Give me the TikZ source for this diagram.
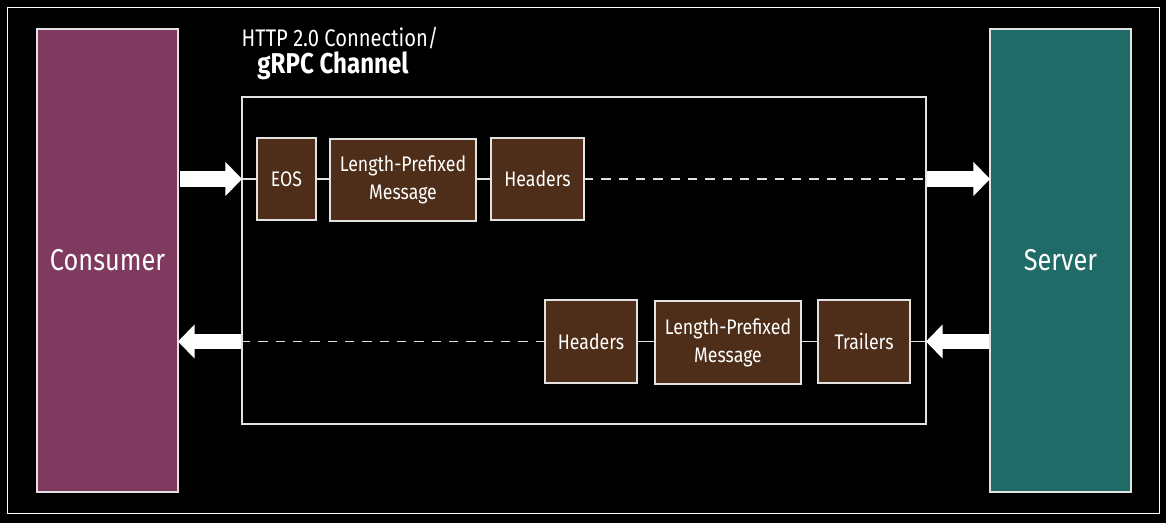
\documentclass[tikz,border=0pt]{standalone}
\usepackage{fontspec}
\setmainfont{Fira Sans}[FakeStretch=0.84]
\usetikzlibrary{arrows.meta}
\definecolor{consumerfill}{HTML}{7E3A5F}
\definecolor{serverfill}{HTML}{206B67}
\definecolor{framefill}{HTML}{4E2D19}
\definecolor{edge}{HTML}{E2E2E2}
\begin{document}
\begin{tikzpicture}[x=0.75pt,y=-0.75pt,
  party/.style={draw=edge,line width=1.4pt,inner sep=0pt,outer sep=0pt,
    minimum width=105.75pt,minimum height=347.25pt,text=white,font=\fontsize{22.6}{26}\selectfont},
  frame/.style={draw=edge,fill=framefill,line width=1.1pt,inner sep=0pt,outer sep=0pt,
    text=white,align=center,font=\fontsize{15.8}{21}\selectfont},
  link/.style={draw=edge,line width=0.8pt},
  stream/.style={link,dash pattern=on 7pt off 6pt},
  bigarrow/.style={white,line width=11.5pt,-{Triangle[length=12.5pt,width=25pt]}},
  label/.style={text=white,inner sep=0pt,font=\fontsize{18}{21}\selectfont}]
  % page and outer border
  \fill[black] (0,0) rectangle (1166,523);
  \draw[white,line width=1.3pt] (7.5,7.5) rectangle (1159.5,513.5);

  % endpoints
  \node[party,fill=consumerfill] (consumer) at (107.5,260.5) {Consumer};
  \node[party,fill=serverfill] (server) at (1060.5,260.5) {Server};

  % the channel
  \node[draw=edge,line width=1pt,inner sep=0pt,outer sep=0pt,
        minimum width=513pt,minimum height=245.25pt] (channel) at (584,260.5) {};
  \node[label] (title1) at (340,38) {HTTP 2.0 Connection/};
  \node[label,font=\fontsize{21.5}{24}\selectfont\bfseries] (title2) at (333,66) {gRPC Channel};

  % request stream
  \node[frame,minimum width=44.25pt,minimum height=61.5pt] (eos) at (286.5,179) {EOS};
  \node[frame,minimum width=109.5pt,minimum height=61.5pt] (reqmsg) at (403,180) {Length-Prefixed\\Message};
  \node[frame,minimum width=69.75pt,minimum height=61.5pt] (reqhdr) at (537.5,179) {Headers};

  % response stream
  \node[frame,minimum width=69pt,minimum height=62.25pt] (reshdr) at (591,341.5) {Headers};
  \node[frame,minimum width=109.5pt,minimum height=62.25pt] (resmsg) at (728,342.5) {Length-Prefixed\\Message};
  \node[frame,minimum width=69pt,minimum height=62.25pt] (trailers) at (864,341.5) {Trailers};

  % links inside the channel
  \draw[link] (eos.west -| channel.west) -- (eos.west);
  \draw[link] (eos.east) -- (eos.east -| reqmsg.west);
  \draw[link] (eos.east -| reqmsg.east) -- (reqhdr.west);
  \draw[stream] (reqhdr.east) -- (reqhdr.east -| channel.east);
  \draw[link] (trailers.east) -- (trailers.east -| channel.east);
  \draw[link] (trailers.west) -- (trailers.west -| resmsg.east);
  \draw[link] (trailers.west -| resmsg.west) -- (reshdr.east);
  \draw[stream] (reshdr.west) -- (reshdr.west -| channel.west);

  % flow between the endpoints and the channel
  \draw[bigarrow,shorten <=1.5pt] (consumer.east |- eos.center) -- (channel.west |- eos.center);
  \draw[bigarrow,shorten <=0.5pt] (channel.east |- reqhdr.center) -- (server.west |- reqhdr.center);
  \draw[bigarrow,shorten <=0.5pt] (server.west |- trailers.center) -- (channel.east |- trailers.center);
  \draw[bigarrow,shorten <=0.5pt] (channel.west |- reshdr.center) -- (consumer.east |- reshdr.center);
\end{tikzpicture}
\end{document}
